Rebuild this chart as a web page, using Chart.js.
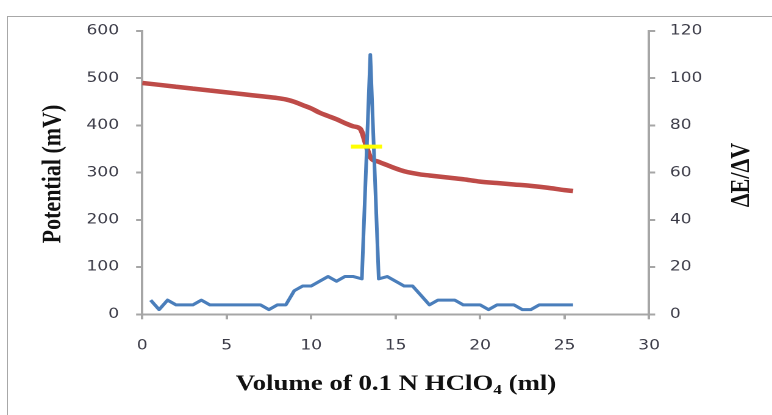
<!DOCTYPE html>
<html>
<head>
<meta charset="utf-8">
<script src="https://cdn.jsdelivr.net/npm/chart.js@4.4.1/dist/chart.umd.min.js"></script>
<style>
  html, body { margin: 0; padding: 0; background: #fff; overflow: hidden; }
  #frame { position: absolute; left: 7px; top: 16px; width: 800px; height: 450px; border: 1px solid #a8a8a8; }
  /* the source picture is stretched sideways, so the chart is too */
  #wrap { position: absolute; left: 0; top: 0; width: 633px; height: 415px; transform: scaleX(1.2196); transform-origin: 0 0; }
</style>
</head>
<body>
<div id="frame"></div>
<div id="wrap"><canvas id="chart" style="width:633px;height:415px"></canvas></div>
<script>
/* ---------- data ---------- */
const potVolumes = [0, 1, 2, 3, 4, 5, 6, 7, 8, 8.5, 9, 9.5, 10, 10.5, 11, 11.5, 12, 12.5, 12.9, 13.5,
                    14, 14.5, 15, 15.5, 16, 16.5, 17, 18, 19, 20, 21, 22, 23, 24, 25, 25.5];
const potential  = [490, 486, 482, 478, 474, 470, 466, 462, 458, 455, 450, 443, 436, 427, 420, 413, 405, 398, 393, 333,
                    323, 316, 309, 303, 299, 296, 294, 290, 286, 281, 278, 275, 272, 268, 263, 261];

const dVolumes = [0.5, 1, 1.5, 2, 2.5, 3, 3.5, 4, 4.5, 5, 5.5, 6, 6.5, 7, 7.5, 8, 8.5, 9, 9.5, 10,
                  10.5, 11, 11.5, 12, 12.5, 13, 13.5, 14, 14.5, 15, 15.5, 16, 16.5, 17, 17.5, 18, 18.5, 19, 19.5, 20,
                  20.5, 21, 21.5, 22, 22.5, 23, 23.5, 24, 24.5, 25, 25.5];
const dEdV     = [6, 2, 6, 4, 4, 4, 6, 4, 4, 4, 4, 4, 4, 4, 2, 4, 4, 10, 12, 12,
                  14, 16, 14, 16, 16, 15, 110, 15, 16, 14, 12, 12, 8, 4, 6, 6, 6, 4, 4, 4,
                  2, 4, 4, 4, 2, 2, 4, 4, 4, 4, 4];

// yellow end-point mark
const markVolumes = [12.35, 14.2];
const markLevel   = [355, 355];

const xTicks = { min: 0, max: 30, step: 5 };
const leftTicks = { min: 0, max: 600, step: 100 };
const rightTicks = { min: 0, max: 120, step: 20 };

/* ---------- helpers ---------- */
const pts = (xs, ys) => xs.map((x, i) => ({ x, y: ys[i] }));
const AXIS = '#a6a6a6';
const TICK_FONT = { family: 'DejaVu Sans', size: 14 };
const TICK_COLOR = '#3c3c48';

function axisStyle(){
  return {
    grid: { drawOnChartArea: false, tickLength: 5, color: AXIS, lineWidth: 2 },
    border: { color: AXIS, width: 2 }
  };
}

/* axis titles drawn by hand (subscript in HClO4) */
const titlesPlugin = {
  id: 'titles',
  afterDraw(chart){
    const ctx = chart.ctx;
    ctx.save();
    ctx.fillStyle = '#111';
    ctx.font = 'bold 22px "Liberation Serif"';
    ctx.textBaseline = 'alphabetic';

    // left title
    ctx.save();
    ctx.translate(49.5, 174);
    ctx.rotate(-Math.PI / 2);
    ctx.textAlign = 'center';
    ctx.fillText('Potential (mV)', 0, 0);
    ctx.restore();

    // right title
    ctx.save();
    ctx.translate(614, 175);
    ctx.rotate(-Math.PI / 2);
    ctx.textAlign = 'center';
    ctx.fillText('ΔE/ΔV', 0, 0);
    ctx.restore();

    // x title with subscript
    const a = 'Volume of 0.1 N HClO', sub = '4', b = ' (ml)';
    ctx.textAlign = 'left';
    const wa = ctx.measureText(a).width, wb = ctx.measureText(b).width;
    ctx.font = 'bold 14px "Liberation Serif"';
    const ws = ctx.measureText(sub).width;
    let x = 324.7 - (wa + ws + wb) / 2;
    const y = 390;
    ctx.font = 'bold 22px "Liberation Serif"';
    ctx.fillText(a, x, y); x += wa;
    ctx.font = 'bold 14px "Liberation Serif"';
    ctx.fillText(sub, x, y + 4); x += ws;
    ctx.font = 'bold 22px "Liberation Serif"';
    ctx.fillText(b, x, y);
    ctx.restore();
  }
};

new Chart(document.getElementById('chart'), {
  type: 'line',
  data: {
    datasets: [
      { data: pts(markVolumes, markLevel), yAxisID: 'y', borderColor: '#ffff00', borderWidth: 4,
        pointRadius: 0, tension: 0, order: 0 },
      { data: pts(dVolumes, dEdV), yAxisID: 'y1', borderColor: '#4a7ebb', borderWidth: 3,
        pointRadius: 0, tension: 0, borderJoinStyle: 'round', order: 1 },
      { data: pts(potVolumes, potential), yAxisID: 'y', borderColor: '#be4b48', borderWidth: 4.5,
        pointRadius: 0, cubicInterpolationMode: 'monotone', order: 2 }
    ]
  },
  options: {
    responsive: false,
    animation: false,
    devicePixelRatio: 2,
    layout: { padding: { top: 31, left: 0, right: 0, bottom: 0 } },
    plugins: { legend: { display: false }, tooltip: { enabled: false } },
    scales: {
      x: {
        type: 'linear', min: xTicks.min, max: xTicks.max,
        ticks: { stepSize: xTicks.step, color: TICK_COLOR, font: TICK_FONT, padding: 18, maxRotation: 0 },
        ...axisStyle(),
        afterFit(s){ s.height = 100.7; }
      },
      y: {
        position: 'left', min: leftTicks.min, max: leftTicks.max,
        ticks: { stepSize: leftTicks.step, color: TICK_COLOR, font: TICK_FONT, padding: 14 },
        ...axisStyle(),
        afterFit(s){ s.width = 116.6; }
      },
      y1: {
        position: 'right', min: rightTicks.min, max: rightTicks.max,
        ticks: { stepSize: rightTicks.step, color: TICK_COLOR, font: TICK_FONT, padding: 12 },
        ...axisStyle(),
        afterFit(s){ s.width = 100.8; }
      }
    }
  },
  plugins: [titlesPlugin]
});
</script>
</body>
</html>
